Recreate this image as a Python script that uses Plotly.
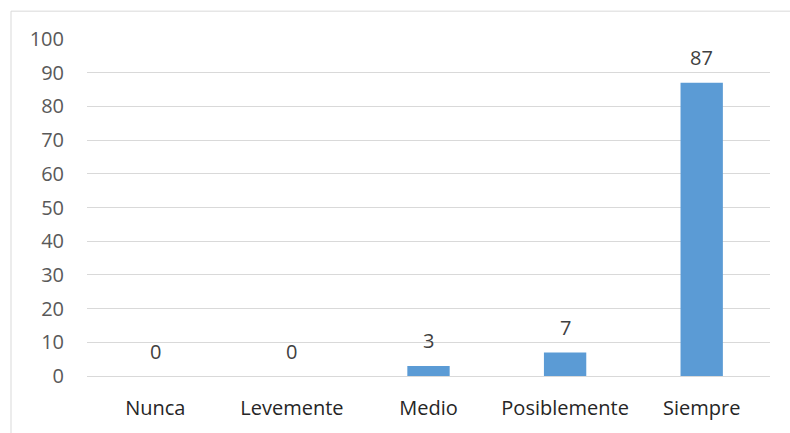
import plotly.graph_objects as go

categories = ["Nunca", "Levemente", "Medio", "Posiblemente", "Siempre"]
values = [0, 0, 3, 7, 87]
y_ticks = [0, 10, 20, 30, 40, 50, 60, 70, 80, 90, 100]

W, H = 790, 433
L, R, T, B = 87, 20, 39, 55
pw, ph = W - L - R, H - T - B

fig = go.Figure(go.Bar(
    x=categories, y=values,
    marker=dict(color="#5B9BD5", line=dict(width=0)),
    cliponaxis=False, width=0.31,
))

annotations = [
    dict(x=c, y=v, xref="x", yref="y", text=str(v), showarrow=False,
         yanchor="middle", yshift=25,
         font=dict(family="Open Sans", size=20, color="#404040"))
    for c, v in zip(categories, values)
]

fig.update_layout(
    width=W, height=H,
    margin=dict(l=L, r=R, t=T, b=B),
    paper_bgcolor="white", plot_bgcolor="white",
    font=dict(family="Open Sans", size=20, color="#595959"),
    showlegend=False,
    annotations=annotations,
    xaxis=dict(showgrid=False, showline=True, linecolor="#D9D9D9", linewidth=1,
               ticks="", tickfont=dict(color="#262626", size=20), ticklabelstandoff=14),
    yaxis=dict(range=[0, 100], tickvals=y_ticks, showgrid=True, gridcolor="#D9D9D9",
               gridwidth=1, zeroline=False, showline=False, ticks="",
               ticklabelstandoff=22, tickfont=dict(color="#595959", size=20)),
    shapes=[dict(type="rect", xref="paper", yref="paper",
                 x0=(11 - L) / pw, x1=1 + (R + 10) / pw,
                 y0=-(B + 10) / ph, y1=1 + (T - 11) / ph,
                 line=dict(color="#D9D9D9", width=1), fillcolor="rgba(0,0,0,0)", layer="below")],
)

fig.write_html("out.html")
